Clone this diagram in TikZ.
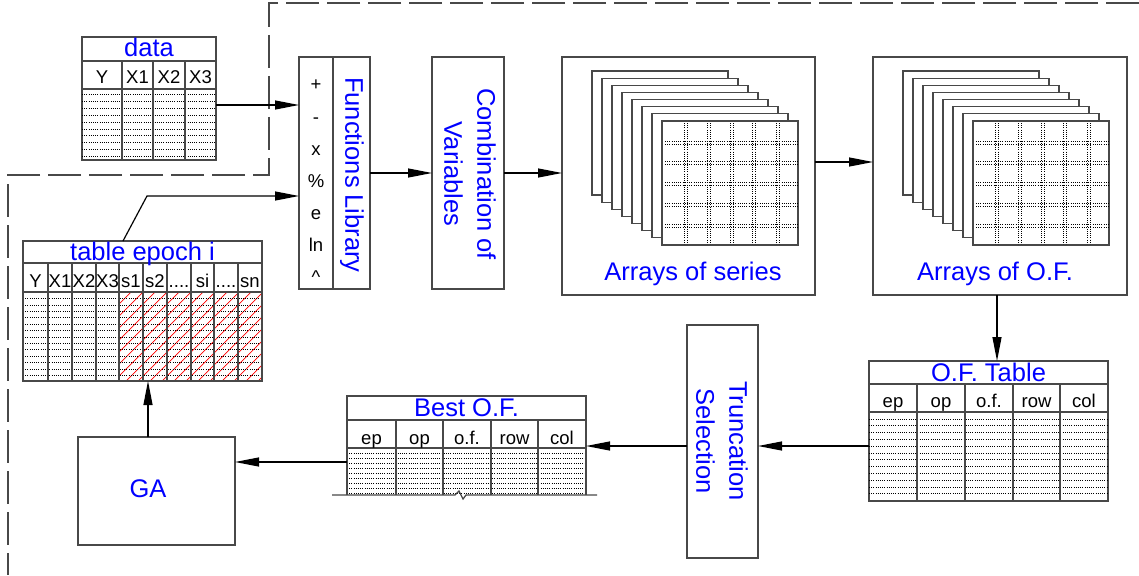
\documentclass[tikz,border=0pt]{standalone}
\usepackage{fontspec}
\setmainfont{Liberation Sans}
\usetikzlibrary{arrows.meta,calc}
\definecolor{edgegray}{RGB}{72,72,72}
\definecolor{labelblue}{RGB}{0,0,255}

\tikzset{
  panelbox/.style={draw=edgegray, line width=1.3pt, rectangle, inner sep=0pt, outer sep=0pt, fill=white},
  flowarrow/.style={draw=black, line width=1.2pt, -{Triangle[length=24pt,width=9pt]}},
  tline/.style={draw=edgegray, line width=1.3pt},
  dotrow/.style={draw=black, line width=0.6pt, dash pattern=on 0.8pt off 1.4pt},
  redhatch/.style={draw=red, line width=0.7pt},
  bigtxt/.style={text=labelblue, font=\fontsize{25.5}{33}\selectfont, inner sep=0pt},
  smalltxt/.style={text=black, font=\fontsize{18.5}{22}\selectfont, inner sep=0pt},
  boundline/.style={draw=edgegray, line width=1.3pt, dash pattern=on 33pt off 8pt},
  sheetedge/.style={draw=edgegray, line width=1.1pt, fill=white},
  griddot/.style={draw=black, line width=0.6pt, dash pattern=on 0.8pt off 1.4pt},
}

\newcommand\skipdots{....}

% stack of eight sheets, back sheet's top-left corner at (#1,#2); front sheet has a dotted grid
\newcommand\sheetstack[2]{%
  \foreach \i in {0,...,7}{
    \filldraw[sheetedge] ({#1+10*\i},{#2+7.14*\i}) rectangle ++(136,124);
  }
  \foreach \dx in {24,47,70,92,116}{
    \draw[griddot] ({#1+70+\dx-1.3},{#2+52}) -- ++(0,121);
    \draw[griddot] ({#1+70+\dx+1.3},{#2+52}) -- ++(0,121);
  }
  \foreach \dy in {22,42,63,84,105}{
    \draw[griddot] ({#1+73},{#2+50+\dy-1.3}) -- ++(133,0);
    \draw[griddot] ({#1+73},{#2+50+\dy+1.3}) -- ++(133,0);
  }
}

\begin{document}
\begin{tikzpicture}[x=1pt,y=-1pt]
\useasboundingbox (0,0) rectangle (1139,575);

% dashed boundary
\draw[boundline] (1139,3) -- (269,3) -- (269,175) -- (8,175) -- (8,575);

% ---------- data table ----------
\node[panelbox, minimum width=134pt, minimum height=123pt] (data) at (149,98.5) {};
\foreach \k in {1,...,10} \draw[dotrow] (82,{88+6.8*\k}) -- (216,{88+6.8*\k});
\draw[tline] (82,61) -- (216,61) (82,89) -- (216,89);
\foreach \x in {122,153,185} \draw[tline] (\x,61) -- (\x,160);
\node[bigtxt, anchor=base] (datatitle) at (149,57) {data};
\foreach \x/\t [count=\n] in {102/Y,137.5/X1,169/X2,200.5/X3}
  \node[smalltxt, anchor=base] (datah\n) at (\x,84) {\t};

% ---------- functions library ----------
\node[panelbox, minimum width=71pt, minimum height=232pt] (funclib) at (334.5,173) {};
\draw[tline] (333,57) -- (333,289);
\foreach \t [count=\n] in {+,-,x,\%,e,ln,\textasciicircum}
  \node[smalltxt, anchor=base] (op\n) at (316,{59+32*\n}) {\t};
\node[bigtxt, rotate=-90] (funclabel) at (352,175) {Functions Library};

% ---------- combination of variables ----------
\node[panelbox, minimum width=72pt, minimum height=232pt] (combo) at (468,173) {};
\node[bigtxt, rotate=-90, align=center] (combolabel) at (470,174) {Combination of\\Variables};

% ---------- arrays of series ----------
\node[panelbox, minimum width=253pt, minimum height=238pt] (series) at (688.5,176) {};
\sheetstack{592}{71}
\node[bigtxt, anchor=base] (serieslabel) at (693,280) {Arrays of series};

% ---------- arrays of O.F. ----------
\node[panelbox, minimum width=254pt, minimum height=238pt] (arrof) at (1000,176) {};
\sheetstack{903}{71}
\node[bigtxt, anchor=base] (arroflabel) at (995,280) {Arrays of O.F.};

% ---------- O.F. table ----------
\node[panelbox, minimum width=239pt, minimum height=140pt] (oftable) at (988.5,431) {};
\foreach \k in {1,...,12} \draw[dotrow] (869,{412+6.8*\k}) -- (1108,{412+6.8*\k});
\draw[tline] (869,384) -- (1108,384) (869,412) -- (1108,412);
\foreach \x in {917,965,1013,1060} \draw[tline] (\x,384) -- (\x,501);
\node[bigtxt, anchor=base] (oftitle) at (988.5,381) {O.F. Table};
\foreach \x/\t [count=\n] in {893/ep,941/op,989/o.f.,1036.5/row,1084/col}
  \node[smalltxt, anchor=base] (ofh\n) at (\x,407) {\t};

% ---------- truncation selection ----------
\node[panelbox, minimum width=71pt, minimum height=233pt] (trunc) at (722.5,441.5) {};
\node[bigtxt, rotate=-90, align=center] (trunclabel) at (722,441) {Truncation\\Selection};

% ---------- best O.F. (broken-off table) ----------
\node[inner sep=0pt, outer sep=0pt, fill=white, minimum width=239pt, minimum height=99pt] (best) at (466.5,445.5) {};
\foreach \k in {1,...,9} \draw[dotrow] (347,{448+5*\k}) -- (586,{448+5*\k});
\draw[tline] (best.south west) -- (best.north west) -- (best.north east) -- (best.south east);
\draw[tline] (347,420) -- (586,420) (347,448) -- (586,448);
\foreach \x in {396,443,491,538} \draw[tline] (\x,420) -- (\x,495);
\draw[tline] (332,495) -- (455,495) -- (459,491) -- (463,499) -- (466,495) -- (597,495);
\node[bigtxt, anchor=base] (besttitle) at (466.5,416) {Best O.F.};
\foreach \x/\t [count=\n] in {371.5/ep,419.5/op,467/o.f.,514.5/row,562/col}
  \node[smalltxt, anchor=base] (besth\n) at (\x,444) {\t};

% ---------- GA ----------
\node[panelbox, minimum width=157pt, minimum height=108pt] (ga) at (156.5,491) {};
\node[bigtxt, anchor=base] (galabel) at (148,497) {GA};

% ---------- table epoch i ----------
\node[panelbox, minimum width=239pt, minimum height=140pt] (epoch) at (142.5,311) {};
\begin{scope}
  \clip (119,292) rectangle (262,381);
  \foreach \x in {30,42,...,262} \draw[redhatch] (\x,381) -- ++(89,-89);
\end{scope}
\foreach \k in {1,...,13} \draw[dotrow] (23,{292+6.4*\k}) -- (262,{292+6.4*\k});
\draw[tline] (23,263) -- (262,263) (23,292) -- (262,292);
\foreach \x in {48,72,96,119,143,167,191,214,238} \draw[tline] (\x,263) -- (\x,381);
\draw[tline] (epoch.north west) rectangle (epoch.south east);
\node[bigtxt, anchor=base] (epochtitle) at (142.5,260) {table epoch i};
\foreach \x/\t [count=\n] in {35.5/Y,60/X1,84/X2,107.5/X3,131/s1,155/s2,179/\skipdots,202.5/si,226/\skipdots,250/sn}
  \node[smalltxt, anchor=base] (epochh\n) at (\x,287) {\t};

% ---------- connectors ----------
\draw[flowarrow] (data.east |- 0,105) -- (funclib.west |- 0,105);
\draw[flowarrow] (epoch.north -| 123,0) -- (147,196) -- (funclib.west |- 0,196);
\draw[flowarrow] (funclib.east) -- (combo.west);
\draw[flowarrow] (combo.east) -- (series.west |- combo.east);
\draw[flowarrow] (series.east |- 0,162) -- (arrof.west |- 0,162);
\draw[flowarrow] (arrof.south -| 997,0) -- (oftable.north -| 997,0);
\draw[flowarrow] (oftable.west |- 0,446) -- (trunc.east |- 0,446);
\draw[flowarrow] (trunc.west |- 0,446) -- (best.east |- 0,446);
\draw[flowarrow] (best.west |- 0,462) -- (ga.east |- 0,462);
\draw[flowarrow] (ga.north -| 148,0) -- (epoch.south -| 148,0);
\end{tikzpicture}
\end{document}
